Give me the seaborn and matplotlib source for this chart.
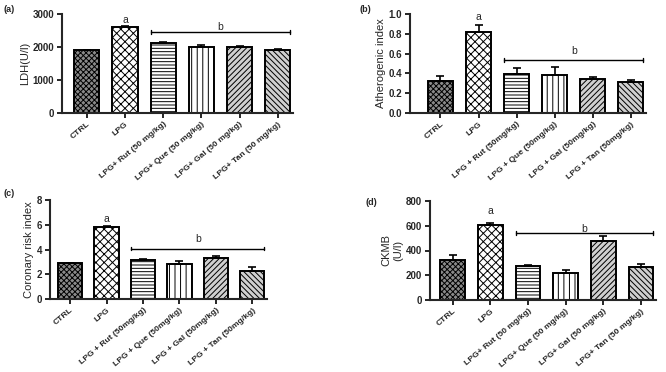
import numpy as np
import pandas as pd
import seaborn as sns
import matplotlib
matplotlib.use('Agg')
import matplotlib.pyplot as plt

sns.set_style('ticks')
plt.rcParams['font.family'] = ['Liberation Sans', 'DejaVu Sans']
plt.rcParams['hatch.linewidth'] = 0.7

# 그룹 이름 (패널마다 표기가 조금씩 다름)
groups_ad = ['CTRL', 'LPG', 'LPG+ Rut (50 mg/kg)', 'LPG+ Que (50 mg/kg)',
             'LPG+ Gal (50 mg/kg)', 'LPG+ Tan (50 mg/kg)']
groups_bc = ['CTRL', 'LPG', 'LPG + Rut (50mg/kg)', 'LPG + Que (50mg/kg)',
             'LPG + Gal (50mg/kg)', 'LPG + Tan (50mg/kg)']

# 평균값, 오차(SEM)
ldh = [1900, 2600, 2120, 1990, 2000, 1920]
ldh_err = [15, 25, 30, 80, 40, 12]
athero = [0.32, 0.82, 0.39, 0.38, 0.34, 0.31]
athero_err = [0.05, 0.07, 0.06, 0.08, 0.02, 0.02]
coronary = [2.9, 5.85, 3.15, 2.85, 3.35, 2.25]
coronary_err = [0.03, 0.08, 0.08, 0.22, 0.1, 0.3]
ckmb = [325, 605, 275, 215, 475, 265]
ckmb_err = [35, 20, 10, 25, 45, 25]

# 유의성 표시 (a 높이, b 선 높이, b 글자 높이)
sig_a = [2820, 0.97, 6.45, 720]
sig_line = [2446, 0.537, 4.08, 540]
sig_b = [2600, 0.63, 4.83, 577]

hatches = ['xxxxxx', 'xxxx', '-----', '|||', '//////', '\\\\\\\\\\\\']
faces = ['#8a8a8a', 'white', 'white', 'white', '#d0d0d0', '#d0d0d0']

fig = plt.figure(figsize=(6.66, 3.72), dpi=100)
W, H = 666, 372


def px_axes(left, top, right, bottom):
    return fig.add_axes([left / W, 1 - bottom / H, (right - left) / W, (bottom - top) / H])


panels = [
    dict(box=(62, 14, 293, 113), groups=groups_ad, vals=ldh, err=ldh_err, ylim=(0, 3000),
         yt=[0, 1000, 2000, 3000], ylabel='LDH(U/l)', tag='(a)', tagpos=(3, 10), xlim=(-0.65, 5.4)),
    dict(box=(410, 14, 646, 113), groups=groups_bc, vals=athero, err=athero_err, ylim=(0, 1.0),
         yt=[0, 0.2, 0.4, 0.6, 0.8, 1.0], ylabel='Atherogenic index', tag='(b)', tagpos=(360, 10),
         xlim=(-0.8, 5.4)),
    dict(box=(50, 200, 267, 299), groups=groups_bc, vals=coronary, err=coronary_err, ylim=(0, 8),
         yt=[0, 2, 4, 6, 8], ylabel='Coronary risk index', tag='(c)', tagpos=(3, 193), xlim=(-0.55, 5.4)),
    dict(box=(430, 201, 656, 300), groups=groups_ad, vals=ckmb, err=ckmb_err, ylim=(0, 800),
         yt=[0, 200, 400, 600, 800], ylabel='CKMB\n(U/l)', tag='(d)', tagpos=(365, 203), xlim=(-0.6, 5.4)),
]

width = 0.66
for i, p in enumerate(panels):
    ax = px_axes(*p['box'])
    df = pd.DataFrame({'group': p['groups'], 'val': p['vals']})
    sns.barplot(data=df, x='group', y='val', ax=ax, width=width, color='white',
                edgecolor='black', linewidth=1.4, errorbar=None)
    for bar, h, fc in zip(ax.patches, hatches, faces):
        bar.set_hatch(h)
        bar.set_facecolor(fc)
    xs = np.arange(len(p['vals']))
    ax.errorbar(xs, p['vals'], yerr=[np.zeros(len(xs)), p['err']], fmt='none',
                ecolor='black', elinewidth=1.2, capsize=3, capthick=1.2, zorder=1)
    ax.set_ylim(*p['ylim'])
    ax.set_xlim(*p['xlim'])
    ax.set_yticks(p['yt'])
    if i == 1:
        ax.set_yticklabels([f'{t:.1f}' for t in p['yt']])
    ax.set_xlabel('')
    ax.set_ylabel(p['ylabel'], fontsize=8, fontstretch='condensed', labelpad=2,
                  family=['Liberation Sans Narrow', 'Liberation Sans'])
    ax.set_xticks(xs)
    ax.set_xticklabels(p['groups'], rotation=40, ha='right', rotation_mode='anchor',
                       fontsize=6.1, fontweight='bold')
    for lab in ax.get_yticklabels():
        lab.set_fontsize(7)
        lab.set_fontweight('bold')
    ax.tick_params(width=1.4, length=3.5, pad=2)
    for s in ['left', 'bottom']:
        ax.spines[s].set_linewidth(1.5)
    sns.despine(ax=ax)

    # a / b 표시
    rng = p['ylim'][1]
    ax.text(1, sig_a[i], 'a', ha='center', va='center', fontsize=7.5, clip_on=False)
    x0, x1 = 2 - width / 2, 5 + width / 2
    yl = sig_line[i]
    ax.plot([x0, x1], [yl, yl], color='black', lw=1)
    for xx in (x0, x1):
        ax.plot([xx, xx], [yl - rng * 0.02, yl + rng * 0.02], color='black', lw=1)
    ax.text((x0 + x1) / 2, sig_b[i], 'b', ha='center', va='center', fontsize=7.5)

    fig.text(p['tagpos'][0] / W, 1 - p['tagpos'][1] / H, p['tag'], fontsize=6.5,
             fontweight='bold', va='center', ha='left')

fig.savefig('out.png', dpi=100)
